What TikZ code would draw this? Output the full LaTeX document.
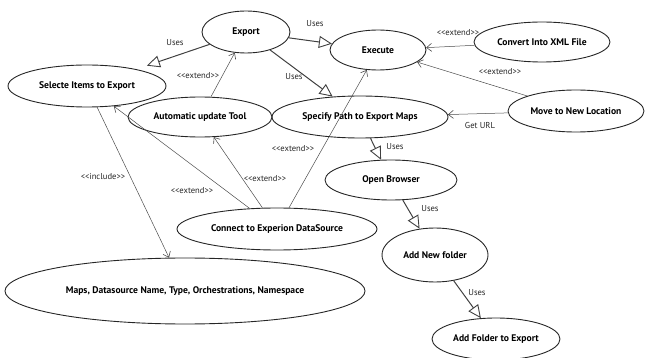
\documentclass[tikz,border=0pt]{standalone}
\usepackage{fontspec}
\setmainfont{PT Sans}
\usetikzlibrary{arrows.meta,shapes.geometric}
\newcommand{\stereo}[1]{{<}{<}#1{>}{>}}
\begin{document}
\begin{tikzpicture}[x=1pt,y=-1pt,
  usecase/.style={draw=black!85,line width=0.9pt,ellipse,inner sep=0pt,
    font=\bfseries\fontsize{9.6}{11}\selectfont},
  uses/.style={draw=black!75,line width=1pt,
    -{Triangle[open,length=13pt,width=12pt,line width=0.9pt]}},
  ext/.style={draw=black!70,line width=0.5pt,
    -{Straight Barb[length=5pt,width=8pt,line width=0.6pt]}},
  lbl/.style={font=\fontsize{8.6}{10}\selectfont,text=black!85,inner sep=1pt}]
\useasboundingbox (0,0) rectangle (645,358);

% use cases
\node[usecase,minimum width=88,minimum height=42] (export) at (246,32) {Export};
\node[usecase,minimum width=96,minimum height=40] (execute) at (378,50) {Execute};
\node[usecase,minimum width=136,minimum height=40] (xml) at (542,42) {Convert Into XML File};
\node[usecase,minimum width=136,minimum height=42] (move) at (576,111) {Move to New Location};
\node[usecase,minimum width=158,minimum height=42] (select) at (87,86) {Selecte Items to Export};
\node[usecase,minimum width=144,minimum height=40] (auto) at (200,117) {Automatic update Tool};
\node[usecase,minimum width=176,minimum height=42] (path) at (360,117) {Specify Path to Export Maps};
\node[usecase,minimum width=132,minimum height=40] (browser) at (391,180) {Open Browser};
\node[usecase,minimum width=106,minimum height=54] (newfolder) at (435,255) {Add New folder};
\node[usecase,minimum width=128,minimum height=42] (addfolder) at (496,339) {Add Folder to Export};
\node[usecase,minimum width=200,minimum height=42] (connect) at (277,229) {Connect to Experion DataSource};
\node[usecase,minimum width=360,minimum height=66] (maps) at (185,291) {Maps, Datasource Name, Type, Orchestrations, Namespace};

% uses relations
\draw[uses,shorten >=11pt] (export) -- (select);
\draw[uses] (export) -- (execute);
\draw[uses] (export) -- (path);
\draw[uses] (path) -- (browser);
\draw[uses] (browser) -- (newfolder);
\draw[uses] (newfolder) -- (addfolder);

% extend / include relations
\draw[ext] (auto) -- (export);
\draw[ext] (xml) -- (execute);
\draw[ext] (move) -- (execute);
\draw[ext] (move) -- (path);
\draw[ext] (connect) -- (select);
\draw[ext] (connect) -- (auto);
\draw[ext] (connect) -- (execute);
\draw[ext] (select) -- (maps);

% relation labels
\node[lbl] (l1) at (175,43) {Uses};
\node[lbl] (l2) at (315,24) {Uses};
\node[lbl] (l3) at (294,77) {Uses};
\node[lbl] (l4) at (395,147) {Uses};
\node[lbl] (l5) at (430,209) {Uses};
\node[lbl] (l6) at (477,293) {Uses};
\node[lbl] (l7) at (198,76) {\stereo{extend}};
\node[lbl] (l8) at (458,33) {\stereo{extend}};
\node[lbl] (l9) at (500,72) {\stereo{extend}};
\node[lbl] (l10) at (480,125) {Get URL};
\node[lbl] (l11) at (293,149) {\stereo{extend}};
\node[lbl] (l12) at (265,179) {\stereo{extend}};
\node[lbl] (l13) at (192,191) {\stereo{extend}};
\node[lbl] (l14) at (103,177) {\stereo{include}};
\end{tikzpicture}
\end{document}
